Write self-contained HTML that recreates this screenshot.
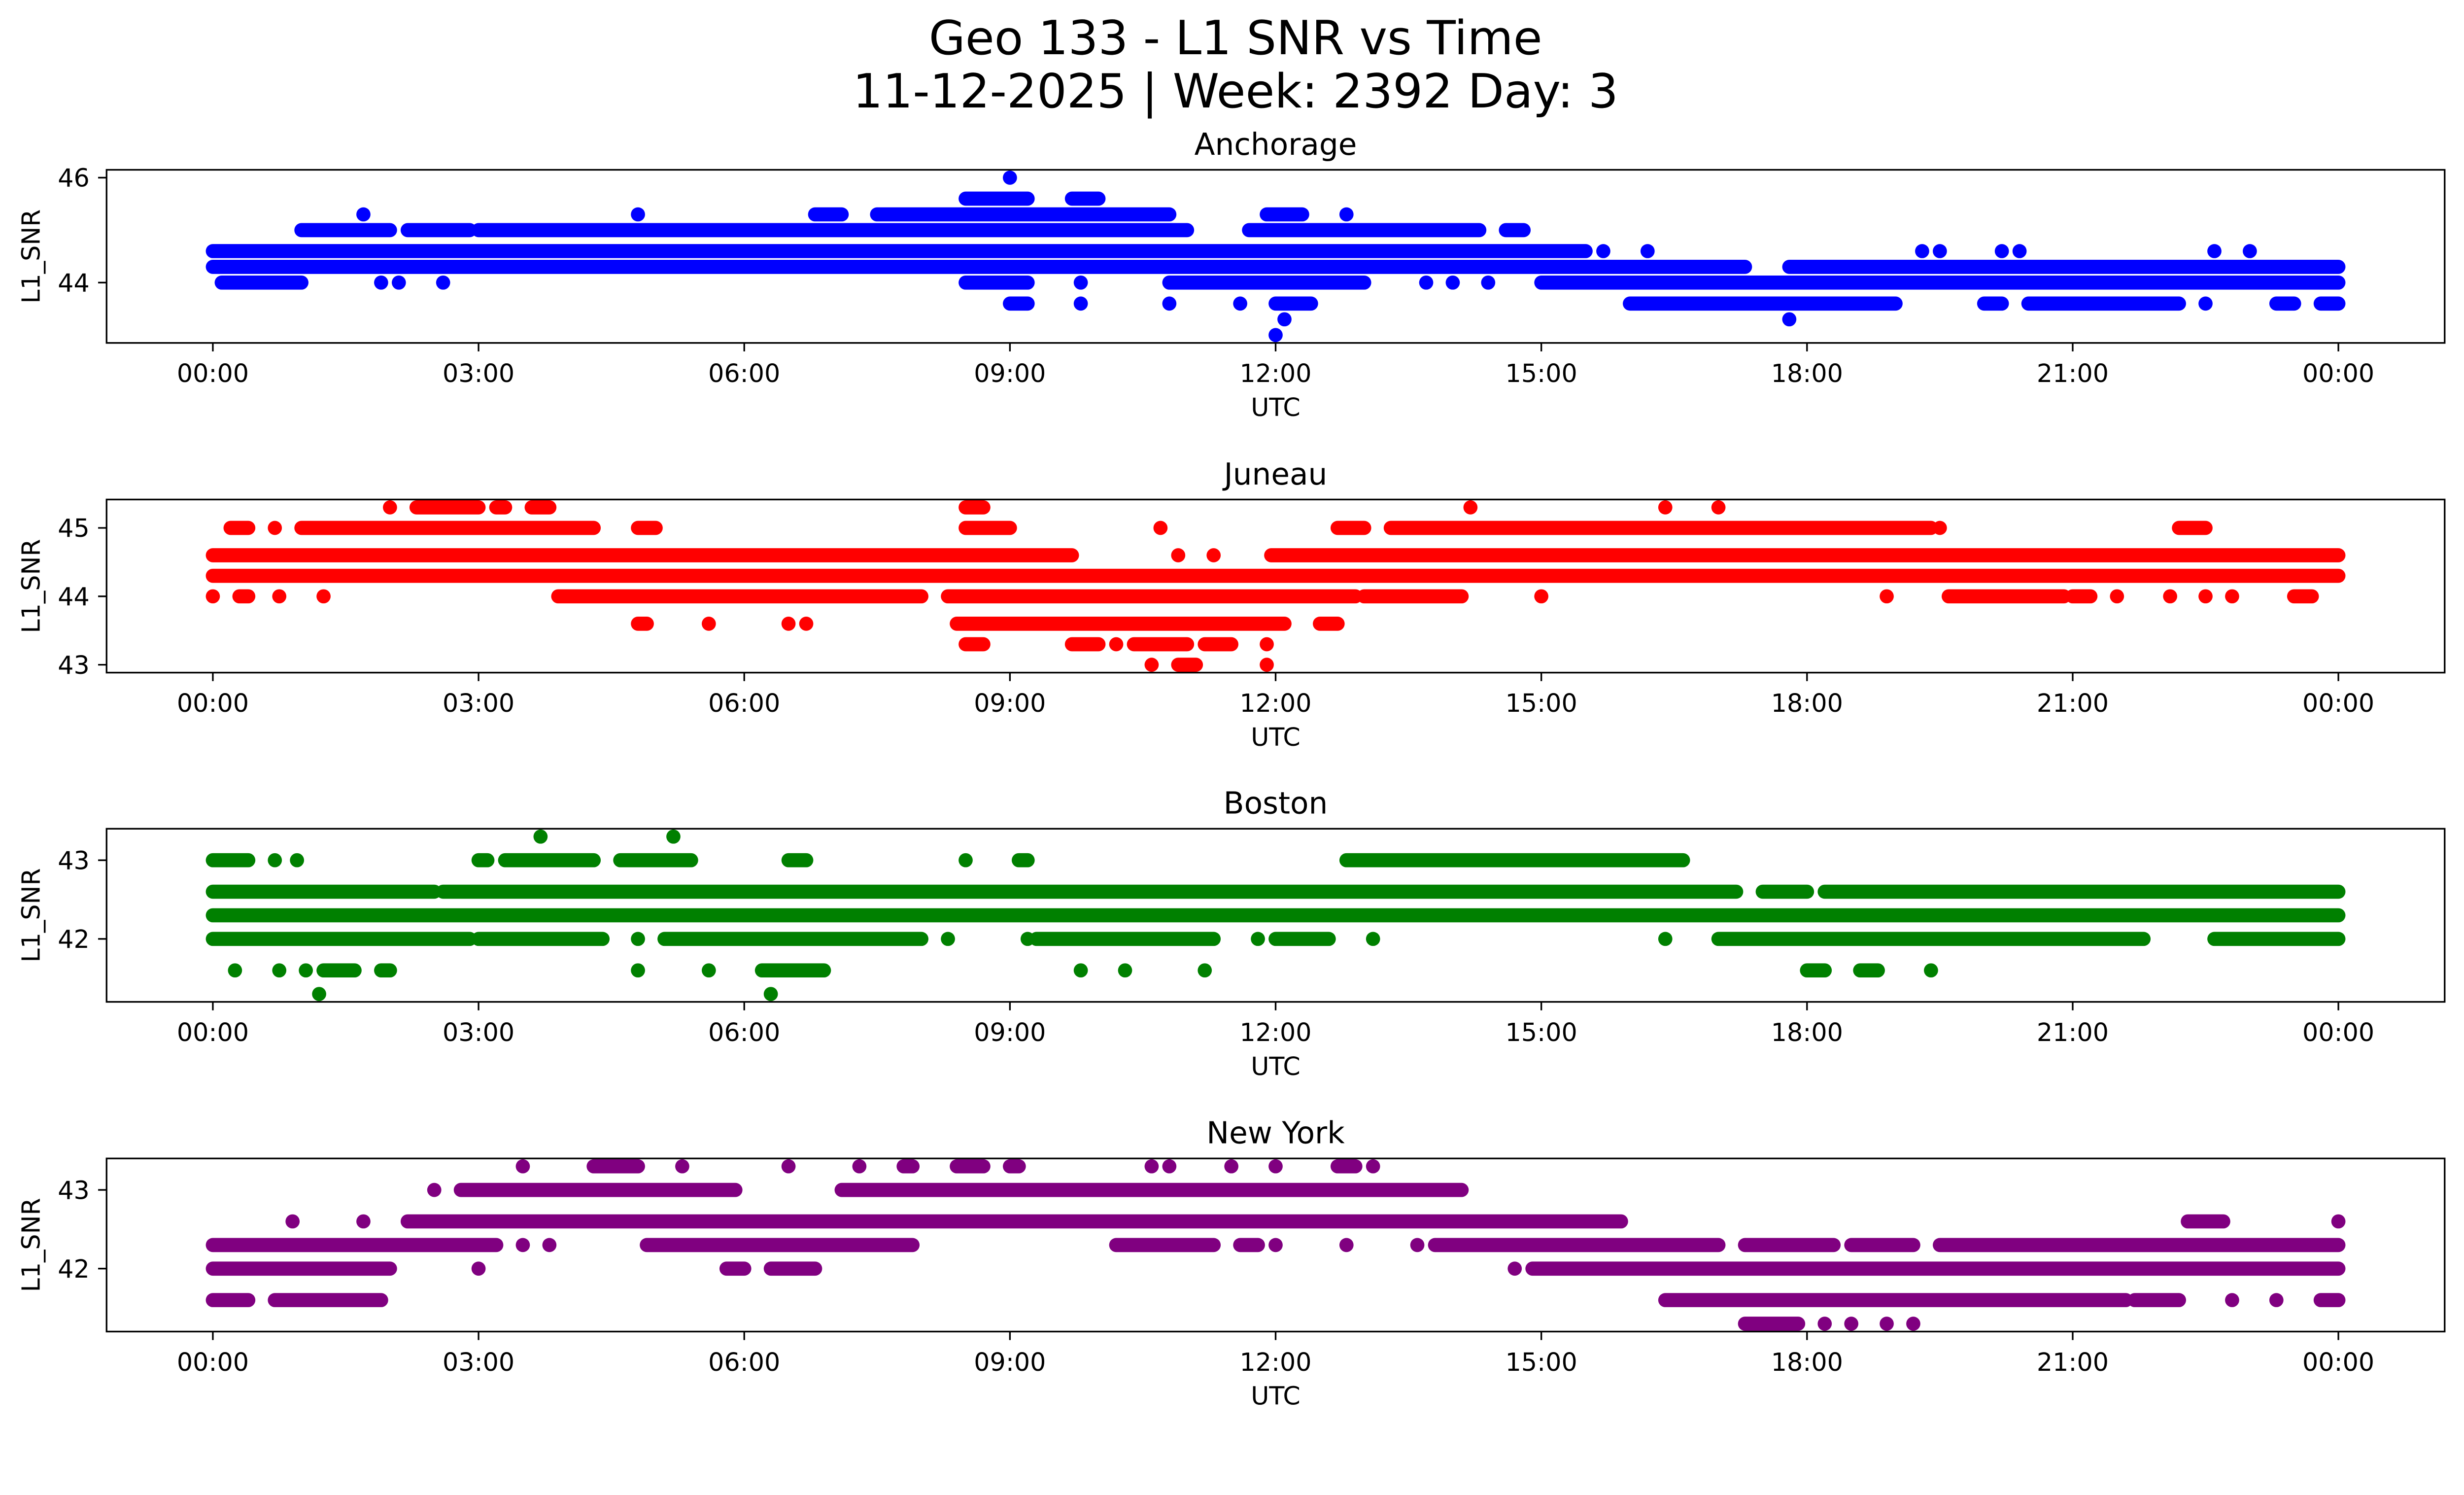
<!DOCTYPE html>
<html><head><meta charset="utf-8"><title>Geo 133 - L1 SNR vs Time</title>
<style>html,body{margin:0;padding:0;background:#fff;overflow:hidden}svg{display:block;width:100vw;height:auto}text{font-family:"DejaVu Sans","Liberation Sans",sans-serif;fill:#000}</style>
</head><body>
<svg id="chart" xmlns="http://www.w3.org/2000/svg" viewBox="0 0 5225 3033">
<rect width="5225" height="3033" fill="#fff"/>
<text x="2620" y="115" font-size="100" text-anchor="middle">Geo 133 - L1 SNR vs Time</text>
<text x="2620" y="228" font-size="100" text-anchor="middle">11-12-2025 | Week: 2392 Day: 3</text>
</svg>
<script>
// ---- data (hours UTC, L1 SNR dB) ----
const stationNames = ["Anchorage","Juneau","Boston","New York"];
const stationColors = ["#0000ff","#ff0000","#008000","#800080"];
const xTickLabels = ["00:00","03:00","06:00","09:00","12:00","15:00","18:00","21:00","00:00"];
const xTickHours = [0,3,6,9,12,15,18,21,24];
const yTicksAnchorage = [44,46];
const yTicksJuneau = [43,44,45];
const yTicksBoston = [42,43];
const yTicksNewYork = [42,43];
// runs: [level, startHour, endHour] dense sample runs
const runsAnchorage = [
 [44.3,0,17.3],[44.3,17.8,24],[44.6,0,15.5],
 [44.0,0.1,1.0],[44.0,10.8,13.0],[44.0,15.0,24],[44.0,8.5,9.2],
 [45.0,1.0,2.0],[45.0,2.2,2.9],[45.0,3.0,11.0],[45.0,11.7,14.3],[45.0,14.6,14.8],
 [45.3,6.8,7.1],[45.3,7.5,10.8],[45.3,11.9,12.3],
 [45.6,8.5,9.2],[45.6,9.7,10.0],
 [43.6,9.0,9.2],[43.6,12.0,12.4],[43.6,16.0,19.0],[43.6,20.0,20.2],[43.6,20.5,22.2],[43.6,23.3,23.5],[43.6,23.8,24]
];
const pointsAnchorage = [
 [1.7,45.3],[4.8,45.3],[12.8,45.3],[9.0,46.0],[9.8,43.6],[10.8,43.6],[11.6,43.6],[22.5,43.6],
 [12.1,43.3],[17.8,43.3],[12.0,43.0],[1.9,44.0],[2.1,44.0],[2.6,44.0],[9.8,44.0],[13.7,44.0],[14.0,44.0],[14.4,44.0],
 [16.2,44.6],[19.3,44.6],[19.5,44.6],[20.2,44.6],[20.4,44.6],[22.6,44.6],[23.0,44.6],[15.7,44.6]
];
const runsJuneau = [
 [44.6,0,9.7],[44.6,11.95,24],[44.3,0,24],
 [44.0,3.9,8.0],[44.0,8.3,12.9],[44.0,13.0,14.1],[44.0,19.6,20.9],[44.0,21.0,21.2],[44.0,23.5,23.7],[44.0,0.3,0.4],
 [43.6,4.8,4.9],[43.6,8.4,12.1],[43.6,12.5,12.7],
 [43.3,8.5,8.7],[43.3,9.7,10.0],[43.3,10.4,11.0],[43.3,11.2,11.5],
 [43.0,10.9,11.1],
 [45.0,0.2,0.4],[45.0,1.0,4.3],[45.0,4.8,5.0],[45.0,8.5,9.0],[45.0,12.7,13.0],[45.0,13.3,19.4],[45.0,22.2,22.5],
 [45.3,2.3,3.0],[45.3,3.2,3.3],[45.3,3.6,3.8],[45.3,8.5,8.7]
];
const pointsJuneau = [
 [10.9,44.6],[11.3,44.6],[0,44.0],[0.75,44.0],[1.25,44.0],[15.0,44.0],[18.9,44.0],[21.5,44.0],[22.1,44.0],[22.5,44.0],[22.8,44.0],
 [5.6,43.6],[6.5,43.6],[6.7,43.6],[10.2,43.3],[11.9,43.3],[10.6,43.0],[11.9,43.0],
 [0.7,45.0],[10.7,45.0],[19.5,45.0],[2.0,45.3],[14.2,45.3],[16.4,45.3],[17.0,45.3]
];
const runsBoston = [
 [42.3,0,24],[42.6,0,2.5],[42.6,2.6,17.2],[42.6,17.5,18.0],[42.6,18.2,24],
 [42.0,0,2.9],[42.0,3.0,4.4],[42.0,5.1,8.0],[42.0,9.3,11.3],[42.0,12.0,12.6],[42.0,17.0,21.8],[42.0,22.6,24],
 [43.0,0,0.4],[43.0,3.0,3.1],[43.0,3.3,4.3],[43.0,4.6,5.4],[43.0,6.5,6.7],[43.0,9.1,9.2],[43.0,12.8,16.6],
 [41.6,1.25,1.6],[41.6,1.9,2.0],[41.6,6.2,6.9],[41.6,18.0,18.2],[41.6,18.6,18.8]
];
const pointsBoston = [
 [4.8,42.0],[8.3,42.0],[9.2,42.0],[11.8,42.0],[13.1,42.0],[16.4,42.0],
 [0.7,43.0],[0.95,43.0],[8.5,43.0],[3.7,43.3],[5.2,43.3],
 [0.25,41.6],[0.75,41.6],[1.05,41.6],[4.8,41.6],[5.6,41.6],[9.8,41.6],[10.3,41.6],[11.2,41.6],[19.4,41.6],
 [1.2,41.3],[6.3,41.3]
];
const runsNewYork = [
 [42.3,0,3.2],[42.3,4.9,7.9],[42.3,10.2,11.3],[42.3,11.6,11.8],[42.3,13.8,17.0],[42.3,17.3,18.3],[42.3,18.5,19.2],[42.3,19.5,24],
 [42.6,2.2,15.9],[42.6,22.3,22.7],
 [42.0,0,2.0],[42.0,5.8,6.0],[42.0,6.3,6.8],[42.0,14.9,24],
 [41.6,0,0.4],[41.6,0.7,1.9],[41.6,16.4,21.6],[41.6,21.7,22.2],[41.6,23.8,24],
 [41.3,17.3,17.9],
 [43.0,2.8,5.9],[43.0,7.1,14.1],
 [43.3,4.3,4.8],[43.3,7.8,7.9],[43.3,8.4,8.7],[43.3,9.0,9.1],[43.3,12.7,12.9]
];
const pointsNewYork = [
 [3.5,42.3],[3.8,42.3],[12.0,42.3],[12.8,42.3],[13.6,42.3],
 [0.9,42.6],[1.7,42.6],[24,42.6],[3.0,42.0],[14.7,42.0],
 [22.8,41.6],[23.3,41.6],[18.2,41.3],[18.5,41.3],[18.9,41.3],[19.2,41.3],
 [2.5,43.0],[3.5,43.3],[5.3,43.3],[6.5,43.3],[7.3,43.3],[10.6,43.3],[10.8,43.3],[11.5,43.3],[12.0,43.3],[13.1,43.3]
];
const allRuns = [runsAnchorage,runsJuneau,runsBoston,runsNewYork];
const allPoints = [pointsAnchorage,pointsJuneau,pointsBoston,pointsNewYork];
const allYTicks = [yTicksAnchorage,yTicksJuneau,yTicksBoston,yTicksNewYork];

// ---- layout ----
const NS = "http://www.w3.org/2000/svg";
const svg = document.getElementById('chart');
const axLeft = 226, axRight = 5184, axH = 367, dotD = 30;
const axTops = [360,1059,1757,2456];
const xMinH = -1.2, xMaxH = 25.2;
function xScale(h){ return axLeft + (h - xMinH)/(xMaxH - xMinH)*(axRight-axLeft); }
function mk(tag, attrs){ const e=document.createElementNS(NS,tag); for(const k in attrs) e.setAttribute(k,attrs[k]); return e; }

for (let p=0;p<4;p++){
  const top = axTops[p], bot = top+axH;
  const runs = allRuns[p], pts = allPoints[p];
  let vals = [];
  runs.forEach(r=>vals.push(r[0])); pts.forEach(q=>vals.push(q[1]));
  const vmin = Math.min(...vals), vmax = Math.max(...vals), m=(vmax-vmin)*0.05;
  const yMin = vmin-m, yMax = vmax+m;
  const yScale = v => top + (yMax - v)/(yMax-yMin)*axH;
  const g = mk('g',{});
  
  
  svg.appendChild(g);
  const clipId='clip'+p;
  const cp = mk('clipPath',{id:clipId}); cp.appendChild(mk('rect',{x:axLeft,y:top,width:axRight-axLeft,height:axH})); g.appendChild(cp);
  const series = mk('g',{'clip-path':'url(#'+clipId+')',fill:stationColors[p],stroke:stationColors[p]});
  
  
  g.appendChild(series);
  runs.forEach(r=>{
    const ln = mk('line',{x1:xScale(r[1]),x2:xScale(r[2]),y1:yScale(r[0]),y2:yScale(r[0]),'stroke-width':dotD,'stroke-linecap':'round'});
    
    
    series.appendChild(ln);
  });
  pts.forEach(q=>{
    const c = mk('circle',{cx:xScale(q[0]),cy:yScale(q[1]),r:dotD/2,stroke:'none'});
    
    
    series.appendChild(c);
  });
  const frame = mk('rect',{x:axLeft,y:top,width:axRight-axLeft,height:axH,fill:'none',stroke:'#000','stroke-width':3.5});
  
  
  g.appendChild(frame);
  const t = mk('text',{x:(axLeft+axRight)/2,y:top-32,'font-size':64,'text-anchor':'middle'});
  t.textContent = stationNames[p];
  
  
  g.appendChild(t);
  xTickHours.forEach((h,i)=>{
    const x = xScale(h);
    const tk = mk('line',{x1:x,x2:x,y1:bot,y2:bot+18,stroke:'#000','stroke-width':3.5});
    
    
    g.appendChild(tk);
    const tl = mk('text',{x:x,y:bot+83,'font-size':53,'text-anchor':'middle'});
    tl.textContent = xTickLabels[i];
    
    
    g.appendChild(tl);
  });
  allYTicks[p].forEach(v=>{
    const y = yScale(v);
    const tk = mk('line',{x1:axLeft-18,x2:axLeft,y1:y,y2:y,stroke:'#000','stroke-width':3.5});
    
    
    g.appendChild(tk);
    const tl = mk('text',{x:axLeft-36,y:y+19,'font-size':53,'text-anchor':'end'});
    tl.textContent = String(v);
    
    
    g.appendChild(tl);
  });
  const xl = mk('text',{x:(axLeft+axRight)/2,y:bot+155,'font-size':53,'text-anchor':'middle'});
  xl.textContent='UTC';
  
  
  g.appendChild(xl);
  const cy = top+axH/2;
  const yl = mk('text',{x:0,y:0,'font-size':53,'text-anchor':'middle',transform:'translate(84,'+cy+') rotate(-90)'});
  yl.textContent='L1_SNR';
  
  
  g.appendChild(yl);
}
</script>
</body></html>
